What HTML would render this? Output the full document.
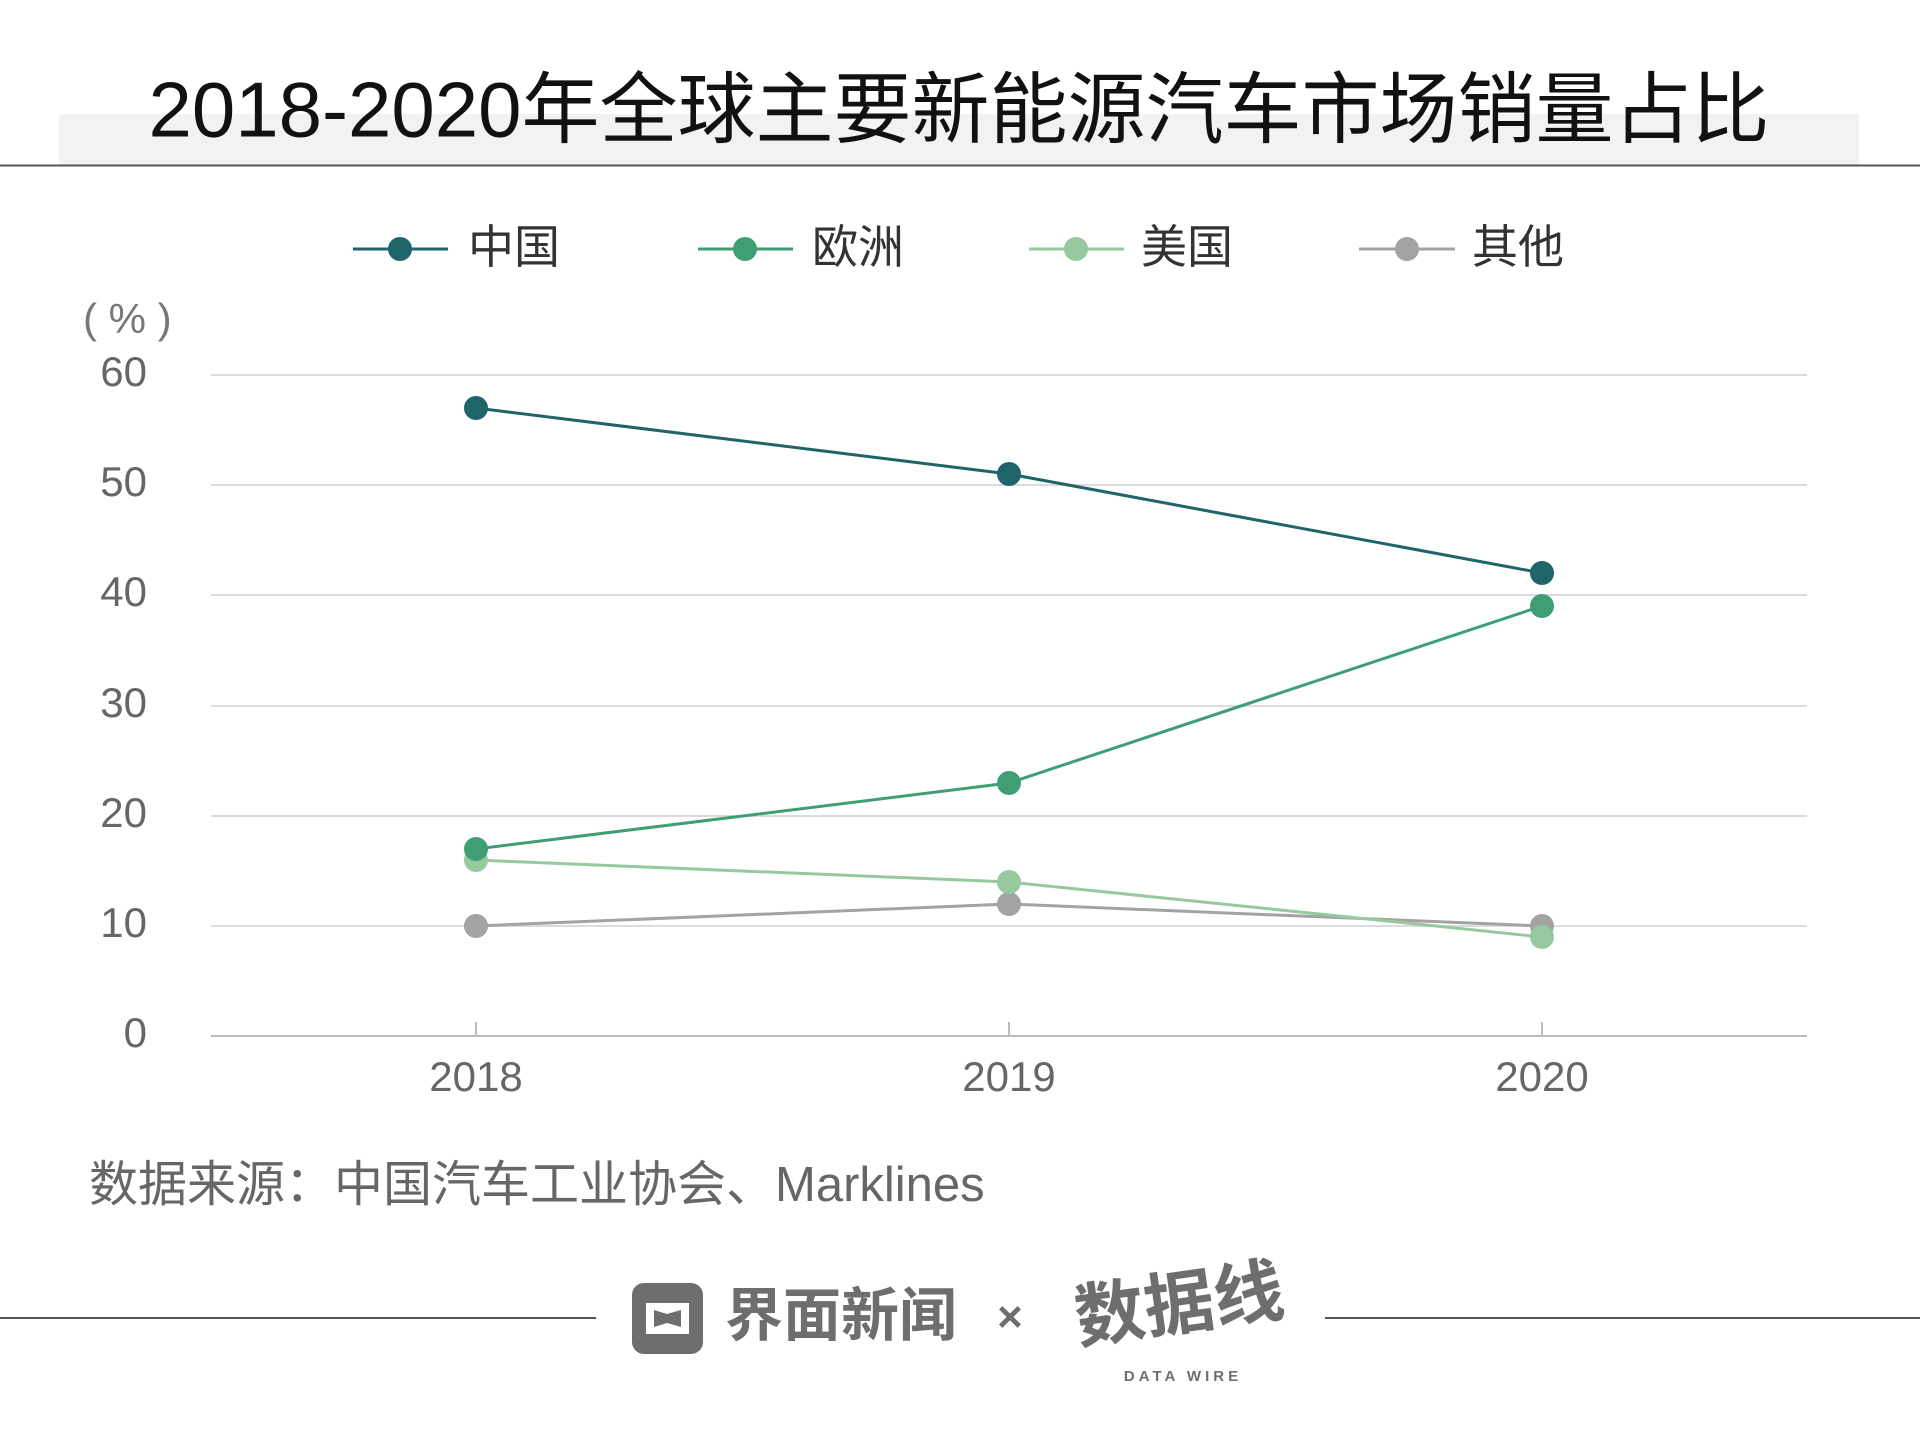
<!DOCTYPE html>
<html><head><meta charset="utf-8"><style>
html,body{margin:0;padding:0;background:#fff;width:1920px;height:1430px;overflow:hidden}
svg{display:block}
text{font-family:"Liberation Sans","Noto Sans CJK SC",sans-serif}
</style></head><body>
<svg width="1920" height="1430" viewBox="0 0 1920 1430" xmlns="http://www.w3.org/2000/svg">
<rect x="59" y="114" width="1800" height="51" fill="#f2f2f4"/>
<text x="959" y="116" text-anchor="middle" font-size="78" fill="#111" dominant-baseline="middle">2018-2020年全球主要新能源汽车市场销量占比</text>
<line x1="0" y1="165.5" x2="1920" y2="165.5" stroke="#555" stroke-width="2"/>
<g font-size="46" fill="#333" dominant-baseline="middle">
<line x1="353" y1="249" x2="448" y2="249" stroke="#1f6468" stroke-width="3"/><circle cx="400" cy="249" r="12" fill="#1f6468"/><text x="468" y="251">中国</text>
<line x1="698" y1="249" x2="793" y2="249" stroke="#3f9e74" stroke-width="3"/><circle cx="745" cy="249" r="12" fill="#3f9e74"/><text x="812" y="251">欧洲</text>
<line x1="1029" y1="249" x2="1124" y2="249" stroke="#96c99e" stroke-width="3"/><circle cx="1076" cy="249" r="12" fill="#96c99e"/><text x="1141" y="251">美国</text>
<line x1="1359" y1="249" x2="1455" y2="249" stroke="#a3a3a3" stroke-width="3"/><circle cx="1407" cy="249" r="12" fill="#a3a3a3"/><text x="1472" y="251">其他</text>
</g>
<text x="83" y="322" font-size="42" fill="#777" dominant-baseline="middle">( % )</text>
<g stroke="#dcdcdc" stroke-width="2">
<line x1="211" y1="375" x2="1807" y2="375"/><line x1="211" y1="485" x2="1807" y2="485"/>
<line x1="211" y1="595" x2="1807" y2="595"/><line x1="211" y1="706" x2="1807" y2="706"/>
<line x1="211" y1="816" x2="1807" y2="816"/><line x1="211" y1="926" x2="1807" y2="926"/>
</g>
<line x1="211" y1="1036" x2="1807" y2="1036" stroke="#bbb" stroke-width="2"/>
<g stroke="#bbb" stroke-width="2"><line x1="476" y1="1022" x2="476" y2="1036"/><line x1="1009" y1="1022" x2="1009" y2="1036"/><line x1="1542" y1="1022" x2="1542" y2="1036"/></g>
<g font-size="42" fill="#666" text-anchor="end" dominant-baseline="middle">
<text x="147" y="375">60</text><text x="147" y="485">50</text><text x="147" y="595">40</text>
<text x="147" y="706">30</text><text x="147" y="816">20</text><text x="147" y="926">10</text><text x="147" y="1036">0</text>
</g>
<g font-size="42" fill="#666" text-anchor="middle" dominant-baseline="middle">
<text x="476" y="1080">2018</text><text x="1009" y="1080">2019</text><text x="1542" y="1080">2020</text>
</g>
<polyline points="476,926 1009,904 1542,926" fill="none" stroke="#a3a3a3" stroke-width="3"/>
<polyline points="476,860 1009,882 1542,937" fill="none" stroke="#96c99e" stroke-width="3"/>
<polyline points="476,849 1009,783 1542,606" fill="none" stroke="#3f9e74" stroke-width="3"/>
<polyline points="476,408 1009,474 1542,573" fill="none" stroke="#1f6468" stroke-width="3"/>
<g fill="#a3a3a3"><circle cx="476" cy="926" r="12"/><circle cx="1009" cy="904" r="12"/><circle cx="1542" cy="926" r="12"/></g>
<g fill="#96c99e"><circle cx="476" cy="860" r="12"/><circle cx="1009" cy="882" r="12"/><circle cx="1542" cy="937" r="12"/></g>
<g fill="#3f9e74"><circle cx="476" cy="849" r="12"/><circle cx="1009" cy="783" r="12"/><circle cx="1542" cy="606" r="12"/></g>
<g fill="#1f6468"><circle cx="476" cy="408" r="12"/><circle cx="1009" cy="474" r="12"/><circle cx="1542" cy="573" r="12"/></g>
<text x="89" y="1188" font-size="49" fill="#666" dominant-baseline="middle">数据来源：中国汽车工业协会、Marklines</text>
<line x1="0" y1="1318" x2="596" y2="1318" stroke="#555" stroke-width="2"/>
<line x1="1325" y1="1318" x2="1920" y2="1318" stroke="#555" stroke-width="2"/>
<rect x="632" y="1283" width="71" height="71" rx="12" fill="#6e6e6e"/>
<path d="M646 1303 L689 1303 L689 1334 L646 1334 Z M654 1310 L667 1314 L681 1310 L681 1327 L667 1323 L654 1327 Z" fill="#fff" fill-rule="evenodd"/>
<text x="725" y="1320" font-size="58" font-weight="bold" fill="#6e6e6e" dominant-baseline="middle">界面新闻</text>
<text x="1010" y="1320" font-size="44" font-weight="bold" fill="#6e6e6e" text-anchor="middle" dominant-baseline="middle">×</text>
<text x="1180" y="1310" font-size="70" font-weight="bold" fill="#6e6e6e" text-anchor="middle" dominant-baseline="middle" transform="rotate(-8 1180 1310)">数据线</text>
<text x="1183" y="1377" font-size="15" font-weight="bold" fill="#6e6e6e" text-anchor="middle" letter-spacing="4" dominant-baseline="middle">DATA WIRE</text>
</svg>
</body></html>
